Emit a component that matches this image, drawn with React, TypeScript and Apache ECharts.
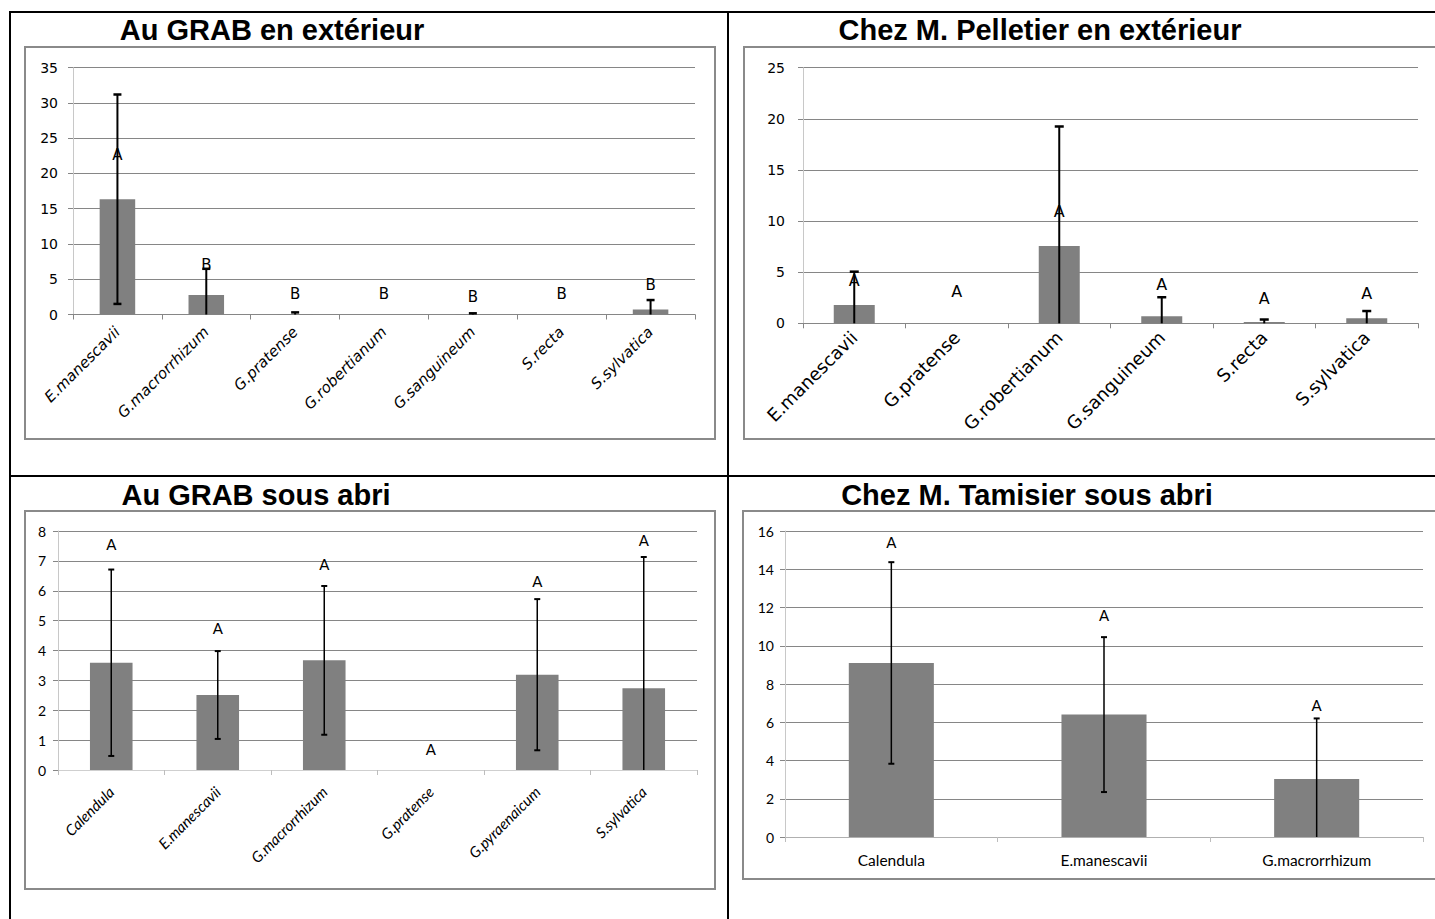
import React, { useEffect, useRef } from "react";
import * as echarts from "echarts";

// ---------- Data ----------
const titles = [
  "Au GRAB en extérieur",
  "Chez M. Pelletier en extérieur",
  "Au GRAB sous abri",
  "Chez M. Tamisier sous abri",
];

const catsP1 = ["E.manescavii", "G.macrorrhizum", "G.pratense", "G.robertianum", "G.sanguineum", "S.recta", "S.sylvatica"];
const meanP1 = [16.35, 2.78, 0.03, 0, 0.03, 0, 0.7];
const errP1 = [14.85, 3.7, 0.27, 0, 0.14, 0, 1.35];
const letterP1 = ["A", "B", "B", "B", "B", "B", "B"];
const letterPosP1 = [22.6, 7.0, 2.9, 2.9, 2.5, 2.9, 4.2];

const catsP2 = ["E.manescavii", "G.pratense", "G.robertianum", "G.sanguineum", "S.recta", "S.sylvatica"];
const meanP2 = [1.8, 0, 7.55, 0.7, 0.12, 0.5];
const errP2 = [3.25, 0, 11.7, 1.85, 0.25, 0.7];
const letterP2 = ["A", "A", "A", "A", "A", "A"];
const letterPosP2 = [4.2, 3.1, 10.9, 3.75, 2.4, 2.95];

const catsP3 = ["Calendula", "E.manescavii", "G.macrorrhizum", "G.pratense", "G.pyraenaicum", "S.sylvatica"];
const meanP3 = [3.59, 2.51, 3.67, 0, 3.19, 2.74];
const errP3 = [3.12, 1.47, 2.49, 0, 2.53, 4.39];
const letterP3 = ["A", "A", "A", "A", "A", "A"];
const letterPosP3 = [7.56, 4.75, 6.89, 0.69, 6.33, 7.69];

const catsP4 = ["Calendula", "E.manescavii", "G.macrorrhizum"];
const meanP4 = [9.1, 6.4, 3.03];
const errP4 = [5.27, 4.05, 3.17];
const letterP4 = ["A", "A", "A"];
const letterPosP4 = [15.44, 11.6, 6.9];

const yMax = [35, 25, 8, 16];
const yStep = [5, 5, 1, 2];

// ---------- Styles ----------
const BAR = "#808080";
const GRID = "#868686";
const FRAME = "#8a8a8a";

function errorSeries(idx: number, means: number[], errs: number[], lw: number, capW: number) {
  return {
    type: "custom",
    xAxisIndex: idx,
    yAxisIndex: idx,
    z: 5,
    silent: true,
    data: means.map((m, i) => [i, m, errs[i]]),
    renderItem: (_params: any, api: any) => {
      const x = api.value(0);
      const m = api.value(1);
      const e = api.value(2);
      if (!(e > 0)) return null;
      const lo = Math.max(0, m - e);
      const hi = m + e;
      const pHi = api.coord([x, hi]);
      const pLo = api.coord([x, lo]);
      const children: any[] = [
        { type: "line", shape: { x1: pHi[0], y1: pHi[1], x2: pLo[0], y2: pLo[1] }, style: { stroke: "#000", lineWidth: lw } },
        { type: "line", shape: { x1: pHi[0] - capW / 2, y1: pHi[1], x2: pHi[0] + capW / 2, y2: pHi[1] }, style: { stroke: "#000", lineWidth: lw + 0.5 } },
      ];
      if (m - e > 0) {
        children.push({ type: "line", shape: { x1: pLo[0] - capW / 2, y1: pLo[1], x2: pLo[0] + capW / 2, y2: pLo[1] }, style: { stroke: "#000", lineWidth: lw + 0.5 } });
      }
      return { type: "group", children };
    },
  };
}

function letterSeries(idx: number, pos: number[], letters: string[], font: string) {
  return {
    type: "custom",
    xAxisIndex: idx,
    yAxisIndex: idx,
    z: 6,
    silent: true,
    data: pos.map((p, i) => [i, p]),
    renderItem: (params: any, api: any) => {
      const p = api.coord([api.value(0), api.value(1)]);
      return {
        type: "text",
        x: p[0],
        y: p[1],
        style: {
          text: letters[params.dataIndex],
          font,
          fill: "#000",
          textAlign: "center",
          textVerticalAlign: "middle",
          align: "center",
          verticalAlign: "middle",
        },
      };
    },
  };
}

function barSeries(idx: number, means: number[]) {
  return {
    type: "bar",
    xAxisIndex: idx,
    yAxisIndex: idx,
    data: means,
    barCategoryGap: "60%",
    itemStyle: { color: BAR },
    silent: true,
  };
}

const panels = [
  { cats: catsP1, mean: meanP1, err: errP1, let: letterP1, pos: letterPosP1 },
  { cats: catsP2, mean: meanP2, err: errP2, let: letterP2, pos: letterPosP2 },
  { cats: catsP3, mean: meanP3, err: errP3, let: letterP3, pos: letterPosP3 },
  { cats: catsP4, mean: meanP4, err: errP4, let: letterP4, pos: letterPosP4 },
];

export default function App() {
  const ref = useRef<HTMLDivElement>(null);

  useEffect(() => {
    if (!ref.current) return;
    const chart = echarts.init(ref.current, null, { renderer: "svg" });

    const grids = [
      { left: 73, top: 67.7, width: 622, height: 246.8 },
      { left: 803, top: 67.7, width: 615, height: 255.6 },
      { left: 58, top: 531, width: 639, height: 239 },
      { left: 785, top: 531, width: 638, height: 306 },
    ];

    const xLabelStyles = [
      { rotate: 45, fontFamily: "DejaVu Sans", fontStyle: "italic", fontSize: 15, margin: 15 },
      { rotate: 45, fontFamily: "DejaVu Sans", fontStyle: "normal", fontSize: 18, margin: 11 },
      { rotate: 45, fontFamily: "Lato", fontStyle: "italic", fontSize: 15, margin: 19 },
      { rotate: 0, fontFamily: "Lato", fontStyle: "normal", fontSize: 15.5, margin: 15 },
    ];
    const yLabelStyles = [
      { fontFamily: "DejaVu Sans", fontSize: 14, margin: 15 },
      { fontFamily: "DejaVu Sans", fontSize: 14, margin: 18 },
      { fontFamily: "Lato", fontSize: 14, margin: 12 },
      { fontFamily: "Lato", fontSize: 14, margin: 11 },
    ];
    const axisLineColors = [GRID, GRID, "#cfcfcf", "#b0b0b0"];
    const errStyles = [
      [2, 8],
      [2, 9],
      [1.5, 6],
      [1.5, 6],
    ];
    const letterFonts = [
      "15px 'DejaVu Sans'",
      "16px 'DejaVu Sans'",
      "15px Lato",
      "15px Lato",
    ];

    const xAxis = panels.map((p, i) => ({
      gridIndex: i,
      type: "category",
      data: p.cats,
      axisLine: { show: true, lineStyle: { color: axisLineColors[i], width: 1 } },
      axisTick: { show: true, length: 5, lineStyle: { color: i >= 2 ? "#bdbdbd" : GRID } },
      axisLabel: { interval: 0, color: "#000", ...xLabelStyles[i] },
      splitLine: { show: false },
    }));

    const yAxis = panels.map((_p, i) => ({
      gridIndex: i,
      type: "value",
      min: 0,
      max: yMax[i],
      interval: yStep[i],
      axisLine: { show: true, lineStyle: { color: "#c8c8c8", width: 1 } },
      axisTick: { show: true, length: 5, lineStyle: { color: GRID } },
      axisLabel: { color: "#000", ...yLabelStyles[i] },
      splitLine: { show: true, showMinLine: false, lineStyle: { color: GRID, width: 1 } },
    }));

    const series: any[] = [];
    panels.forEach((p, i) => {
      series.push(barSeries(i, p.mean));
      series.push(errorSeries(i, p.mean, p.err, errStyles[i][0], errStyles[i][1]));
      series.push(letterSeries(i, p.pos, p.let, letterFonts[i]));
    });

    const black = { fill: "#000" };
    const frame = { fill: "none", stroke: FRAME, lineWidth: 2 };
    const titleFont = "bold 29px 'Liberation Sans', Arial, sans-serif";
    const titlePos = [
      [272, 30],
      [1040, 30],
      [256, 495],
      [1027, 495],
    ];

    const graphic: any[] = [
      // table borders
      { type: "rect", shape: { x: 9, y: 11, width: 1430, height: 2 }, style: black, silent: true },
      { type: "rect", shape: { x: 9, y: 11, width: 2, height: 910 }, style: black, silent: true },
      { type: "rect", shape: { x: 727, y: 11, width: 2, height: 910 }, style: black, silent: true },
      { type: "rect", shape: { x: 9, y: 475, width: 1430, height: 2 }, style: black, silent: true },
      // chart frames
      { type: "rect", shape: { x: 25, y: 47, width: 690, height: 392 }, style: frame, silent: true },
      { type: "rect", shape: { x: 744, y: 47, width: 710, height: 392 }, style: frame, silent: true },
      { type: "rect", shape: { x: 25, y: 511, width: 690, height: 378 }, style: frame, silent: true },
      { type: "rect", shape: { x: 743, y: 511, width: 710, height: 368 }, style: frame, silent: true },
      ...titles.map((t, i) => ({
        type: "text",
        x: titlePos[i][0],
        y: titlePos[i][1],
        silent: true,
        style: { text: t, font: titleFont, fill: "#000", textAlign: "center", textVerticalAlign: "middle", align: "center", verticalAlign: "middle" },
      })),
    ];

    chart.setOption({
      animation: false,
      backgroundColor: "#fff",
      grid: grids.map((g) => ({ ...g, containLabel: false })),
      xAxis,
      yAxis,
      series,
      graphic,
    });

    return () => chart.dispose();
  }, []);

  return (
    <div
      ref={ref}
      style={{ position: "absolute", left: 0, top: 0, width: 1435, height: 919, background: "#fff" }}
    />
  );
}
